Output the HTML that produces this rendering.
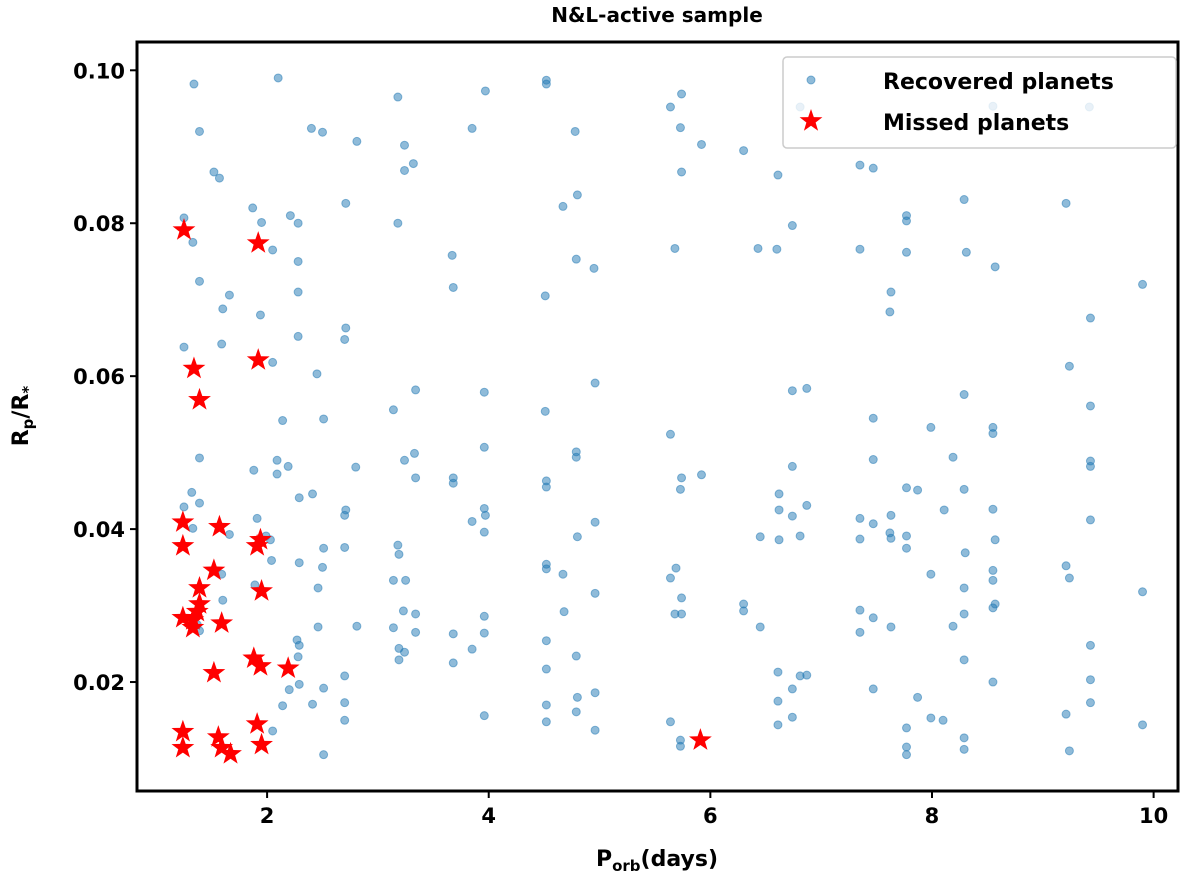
<!DOCTYPE html>
<html><head><meta charset="utf-8"><style>
body{margin:0;background:#fff;}
svg text{font-family:"DejaVu Sans","Liberation Sans",sans-serif;font-weight:bold;}
</style></head><body>
<svg id="chart" width="1200" height="883" viewBox="0 0 1200 883" xmlns="http://www.w3.org/2000/svg">
<text x="657" y="22" font-size="20" text-anchor="middle">N&amp;L-active sample</text>
<g id="marks"></g>
<g id="axes"></g>
<rect x="137" y="42" width="1041" height="749" fill="none" stroke="#000" stroke-width="3"/>
<text transform="translate(28,416) rotate(-90)" font-size="22" text-anchor="middle">R<tspan font-size="15" dy="5">p</tspan><tspan dy="-5">/R</tspan><tspan font-size="15" dy="5">*</tspan></text>
<text x="657" y="866" font-size="22" text-anchor="middle">P<tspan font-size="15" dy="5">orb</tspan><tspan dy="-5">(days)</tspan></text>
<g>
<rect x="783" y="57" width="393" height="91" rx="4" fill="#fff" fill-opacity="0.8" stroke="#ccc" stroke-width="1.5"/>
<circle cx="811" cy="80" r="4" fill="#1f77b4" fill-opacity="0.5" stroke="#1f77b4" stroke-opacity="0.5"/>
<text x="883" y="89" font-size="22">Recovered planets</text>
<path transform="translate(811,121)" d="M0,-12 L2.8,-3.9 L11.4,-3.7 L4.6,1.5 L7.1,9.7 L0,4.8 L-7.1,9.7 L-4.6,1.5 L-11.4,-3.7 L-2.8,-3.9Z" fill="red"/>
<text x="883" y="130" font-size="22">Missed planets</text>
</g>
</svg>
<script>
const recX=[1.34,1.39,1.52,1.57,1.25,1.33,1.39,1.66,1.60,1.25,1.59,1.39,1.32,1.39,1.25,1.33,1.66,1.59,1.60,1.39,1.37,1.87,1.95,2.21,2.28,2.05,2.28,2.28,1.94,2.05,2.28,2.14,2.09,2.19,1.88,2.09,1.91,2.29,1.99,2.03,2.04,2.29,1.89,2.27,2.29,2.28,2.29,2.20,2.14,2.05,2.10,2.40,2.50,2.81,2.71,2.71,2.70,2.45,2.51,2.80,2.41,2.71,2.70,2.51,2.70,2.50,2.46,2.46,2.81,2.70,2.70,2.51,2.70,2.41,2.51,3.18,3.24,3.32,3.24,3.18,3.14,3.34,3.24,3.33,3.34,3.18,3.19,3.14,3.25,3.23,3.34,3.14,3.34,3.19,3.24,3.19,3.67,3.68,3.85,3.97,3.96,3.96,3.68,3.68,3.96,3.97,3.85,3.96,3.96,3.96,3.68,3.85,3.68,3.96,4.52,4.52,4.51,4.51,4.52,4.52,4.52,4.52,4.52,4.52,4.52,4.52,4.78,4.80,4.67,4.79,4.95,4.96,4.79,4.79,4.96,4.80,4.67,4.96,4.68,4.79,4.80,4.96,4.79,4.96,5.64,5.74,5.73,5.92,5.74,5.68,5.64,5.74,5.92,5.73,5.64,5.69,5.74,5.68,5.74,5.64,5.73,5.73,6.30,6.61,6.43,6.60,6.74,6.81,6.74,6.87,6.30,6.30,6.45,6.62,6.81,6.74,6.87,6.74,6.62,6.62,6.45,6.61,6.61,6.74,6.81,6.87,6.74,6.61,7.35,7.47,7.35,7.63,7.62,7.47,7.47,7.35,7.47,7.35,7.63,7.62,7.63,7.35,7.47,7.35,7.63,7.47,7.77,7.77,7.77,7.77,7.87,7.77,7.77,7.99,8.11,7.99,7.87,7.77,7.77,7.77,7.99,8.10,8.19,8.19,8.29,8.31,8.29,8.29,8.30,8.29,8.29,8.29,8.29,8.29,8.55,8.57,8.55,8.55,8.55,8.57,8.55,8.55,8.57,8.55,8.55,9.21,9.24,9.21,9.24,9.21,9.24,9.43,9.43,9.43,9.43,9.43,9.43,9.43,9.43,9.90,9.90,9.90,9.42];
const recY=[.0982,.0920,.0867,.0859,.0807,.0775,.0724,.0706,.0688,.0638,.0642,.0493,.0448,.0434,.0429,.0401,.0393,.0341,.0307,.0267,.0275,.0820,.0801,.0810,.0800,.0765,.0750,.0710,.0680,.0618,.0652,.0542,.0490,.0482,.0477,.0472,.0414,.0441,.0391,.0386,.0359,.0356,.0327,.0255,.0248,.0233,.0197,.0190,.0169,.0136,.0990,.0924,.0919,.0907,.0826,.0663,.0648,.0603,.0544,.0481,.0446,.0425,.0418,.0375,.0376,.0350,.0323,.0272,.0273,.0208,.0173,.0192,.0150,.0171,.0105,.0965,.0902,.0878,.0869,.0800,.0556,.0582,.0490,.0499,.0467,.0379,.0367,.0333,.0333,.0293,.0289,.0271,.0265,.0244,.0239,.0229,.0758,.0716,.0924,.0973,.0579,.0507,.0467,.0460,.0427,.0418,.0410,.0396,.0286,.0264,.0263,.0243,.0225,.0156,.0987,.0982,.0705,.0554,.0463,.0455,.0354,.0348,.0254,.0217,.0170,.0148,.0920,.0837,.0822,.0753,.0741,.0591,.0501,.0494,.0409,.0390,.0341,.0316,.0292,.0234,.0180,.0186,.0161,.0137,.0952,.0969,.0925,.0903,.0867,.0767,.0524,.0467,.0471,.0452,.0336,.0349,.0310,.0289,.0289,.0148,.0124,.0116,.0895,.0863,.0767,.0766,.0797,.0952,.0581,.0584,.0302,.0293,.0390,.0386,.0391,.0417,.0431,.0482,.0446,.0425,.0272,.0213,.0175,.0191,.0208,.0209,.0154,.0144,.0876,.0872,.0766,.0710,.0684,.0545,.0491,.0414,.0407,.0387,.0418,.0395,.0388,.0294,.0284,.0265,.0272,.0191,.0810,.0803,.0762,.0454,.0451,.0391,.0375,.0533,.0425,.0341,.0180,.0140,.0115,.0105,.0153,.0150,.0273,.0494,.0831,.0762,.0576,.0452,.0369,.0323,.0289,.0229,.0127,.0112,.0953,.0743,.0533,.0525,.0426,.0386,.0346,.0333,.0302,.0297,.0200,.0826,.0613,.0352,.0336,.0158,.0110,.0676,.0561,.0489,.0482,.0412,.0248,.0203,.0173,.0720,.0318,.0144,.0952];
const misX=[1.25,1.92,1.34,1.39,1.92,1.24,1.24,1.57,1.94,1.91,1.52,1.39,1.39,1.37,1.24,1.33,1.33,1.59,1.95,1.88,1.94,2.19,1.52,1.24,1.24,1.56,1.59,1.67,1.91,1.95,5.91];
const misY=[.0791,.0774,.0610,.0569,.0621,.0409,.0378,.0403,.0386,.0378,.0346,.0323,.0302,.0292,.0284,.0281,.0271,.0277,.0319,.0231,.0221,.0218,.0212,.0135,.0114,.0128,.0114,.0106,.0145,.0118,.0124];
const xTicks=[2,4,6,8,10];
const yTicks=[0.02,0.04,0.06,0.08,0.10];
const yTickLabels=["0.02","0.04","0.06","0.08","0.10"];
const X0=137,X1=1178,Y0=791,Y1=42,xMin=0.826,xMax=10.22,yMin=0.00575,yMax=0.1037;
function sx(v){return X0+(v-xMin)/(xMax-xMin)*(X1-X0);}
function sy(v){return Y0-(v-yMin)/(yMax-yMin)*(Y0-Y1);}
const NS="http://www.w3.org/2000/svg";
const marks=document.getElementById('marks'),axes=document.getElementById('axes');
const starD="M0,-12 L2.8,-3.9 L11.4,-3.7 L4.6,1.5 L7.1,9.7 L0,4.8 L-7.1,9.7 L-4.6,1.5 L-11.4,-3.7 L-2.8,-3.9Z";
for(let i=0;i<recX.length;i++){
 const c=document.createElementNS(NS,'circle');
 c.setAttribute('cx',sx(recX[i]));c.setAttribute('cy',sy(recY[i]));c.setAttribute('r',4);
 c.setAttribute('fill','#1f77b4');c.setAttribute('fill-opacity','0.5');
 c.setAttribute('stroke','#1f77b4');c.setAttribute('stroke-opacity','0.5');
 
 
 marks.appendChild(c);
}
for(let i=0;i<misX.length;i++){
 const p=document.createElementNS(NS,'path');
 p.setAttribute('d',starD);p.setAttribute('fill','red');
 p.setAttribute('transform','translate('+sx(misX[i])+','+sy(misY[i])+')');
 
 
 marks.appendChild(p);
}
xTicks.forEach(v=>{
 const l=document.createElementNS(NS,'line');
 l.setAttribute('x1',sx(v));l.setAttribute('x2',sx(v));l.setAttribute('y1',Y0);l.setAttribute('y2',Y0+7);l.setAttribute('stroke','#000');l.setAttribute('stroke-width','2');
 
 
 axes.appendChild(l);
 const t=document.createElementNS(NS,'text');
 t.setAttribute('x',sx(v));t.setAttribute('y',Y0+32);t.setAttribute('font-size','21');t.setAttribute('text-anchor','middle');
 t.textContent=String(v);
 
 
 axes.appendChild(t);
});
yTicks.forEach((v,i)=>{
 const l=document.createElementNS(NS,'line');
 l.setAttribute('x1',X0-7);l.setAttribute('x2',X0);l.setAttribute('y1',sy(v));l.setAttribute('y2',sy(v));l.setAttribute('stroke','#000');l.setAttribute('stroke-width','2');
 
 
 axes.appendChild(l);
 const t=document.createElementNS(NS,'text');
 t.setAttribute('x',X0-12);t.setAttribute('y',sy(v)+8);t.setAttribute('font-size','21');t.setAttribute('text-anchor','end');
 t.textContent=yTickLabels[i];
 
 
 axes.appendChild(t);
});
</script>
</body></html>
